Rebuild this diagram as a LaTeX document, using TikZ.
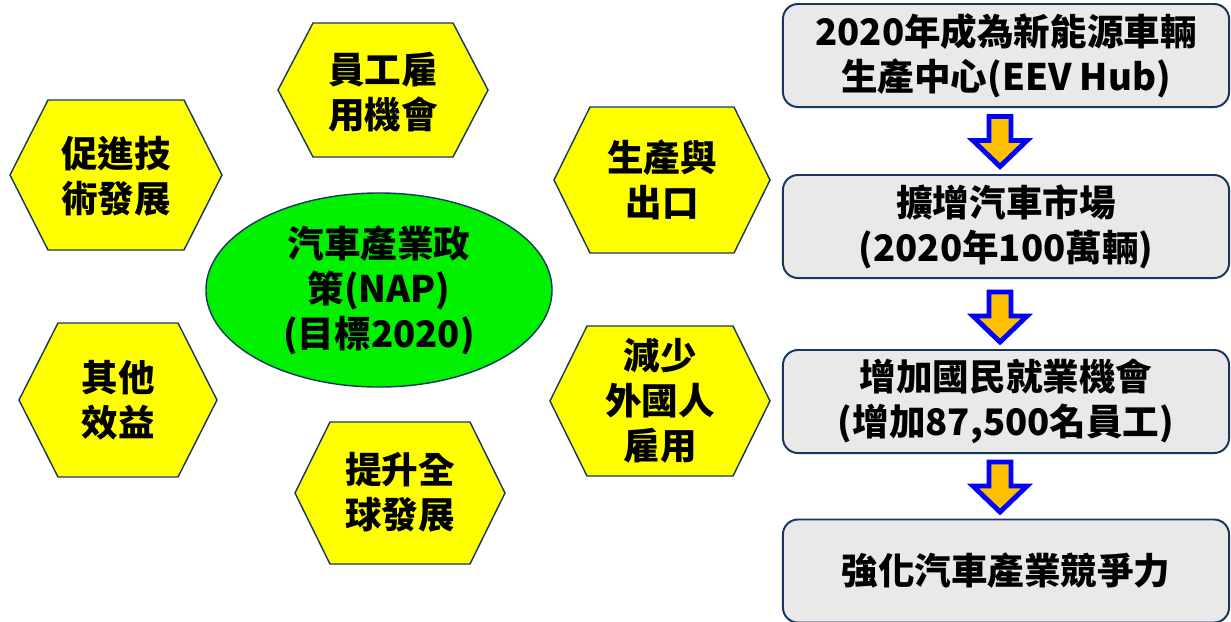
\documentclass[tikz,border=0pt]{standalone}
\usepackage{fontspec}
\setmainfont{Noto Sans CJK TC}
\usetikzlibrary{shapes.geometric}
\definecolor{navy}{RGB}{23,55,94}
\definecolor{hexyellow}{RGB}{255,255,0}
\definecolor{napgreen}{RGB}{0,240,0}
\definecolor{boxgray}{RGB}{233,233,233}
\definecolor{arrowgold}{RGB}{255,192,0}

\begin{document}
\begin{tikzpicture}[x=0.025cm,y=-0.025cm,
    hexa/.style={draw=navy,fill=hexyellow,line width=1pt,line join=miter},
    txt/.style={font=\fontsize{26}{32}\selectfont\bfseries,align=center,text=black,inner sep=0pt},
    goal/.style={txt,draw=navy,line width=1.4pt,fill=boxgray,rounded corners=0.375cm,minimum width=11.15cm,minimum height=2.575cm},
    downarrow/.style={draw=blue,fill=arrowgold,line width=3.5pt,line join=miter}]
        \useasboundingbox (0,0) rectangle (1231,621);
        % hexagons round the policy
        \filldraw[hexa] (10,175) -- (48,100) -- (184,100) -- (222,175) -- (184,250) -- (48,250) -- cycle;
        \filldraw[hexa] (278,90) -- (313,23) -- (453,23) -- (488,90) -- (453,157) -- (313,157) -- cycle;
        \filldraw[hexa] (554,180) -- (590,107) -- (734,107) -- (770,180) -- (734,253) -- (590,253) -- cycle;
        \filldraw[hexa] (550,401) -- (587,326) -- (733,326) -- (770,401) -- (733,476) -- (587,476) -- cycle;
        \filldraw[hexa] (19,400) -- (58,323) -- (178,323) -- (217,400) -- (178,477) -- (58,477) -- cycle;
        \filldraw[hexa] (295,493) -- (330,422) -- (470,422) -- (505,493) -- (470,564) -- (330,564) -- cycle;
        \node[txt] (tech) at (116,176) {促進技\\術發展};
        \node[txt] (jobs) at (383,92) {員工雇\\用機會};
        \node[txt] (export) at (662,180) {生產與\\出口};
        \node[txt] (reduce) at (660,401) {減少\\外國人\\雇用};
        \node[txt] (other) at (118,400) {其他\\效益};
        \node[txt] (global) at (400,492) {提升全\\球發展};
        \node[txt,ellipse,draw=navy,fill=napgreen,line width=1pt,minimum width=8.65cm,minimum height=4.85cm] (nap) at (379,290) {汽車產業政\\策(NAP)\\(目標2020)};
        % goals on the right
        \node[goal] (hub) at (1006,55.5) {2020年成為新能源車輛\\生產中心(EEV Hub)};
        \node[goal] (market) at (1006,226.5) {擴增汽車市場\\(2020年100萬輛)};
        \node[goal] (employ) at (1006,401.5) {增加國民就業機會\\(增加87,500名員工)};
        \node[goal] (compete) at (1006,571) {強化汽車產業競爭力};
        \filldraw[downarrow] (989,116.5) -- (1011,116.5) -- (1011,140.5) -- (1027,140.5) -- (1000,166.5) -- (973,140.5) -- (989,140.5) -- cycle;
        \filldraw[downarrow] (989,292) -- (1011,292) -- (1011,316) -- (1027,316) -- (1000,342) -- (973,316) -- (989,316) -- cycle;
        \filldraw[downarrow] (989,462) -- (1011,462) -- (1011,486) -- (1027,486) -- (1000,512) -- (973,486) -- (989,486) -- cycle;
    \end{tikzpicture}
\end{document}
